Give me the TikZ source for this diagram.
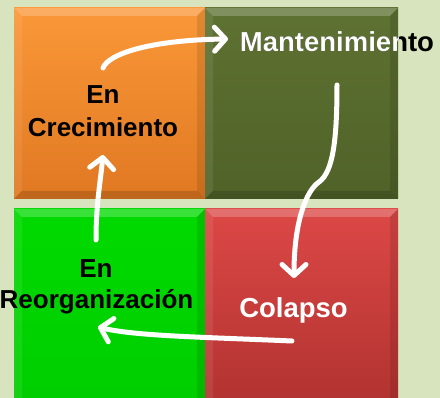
\documentclass[tikz,border=0pt]{standalone}
\usepackage{fontspec}
\setmainfont{Liberation Sans}
\usetikzlibrary{arrows.meta}
\definecolor{bg}{RGB}{216,228,190}
\definecolor{orT}{RGB}{250,152,56}
\definecolor{orB}{RGB}{224,120,34}
\definecolor{olT}{RGB}{94,114,50}
\definecolor{olB}{RGB}{80,98,40}
\definecolor{grT}{RGB}{0,218,0}
\definecolor{grB}{RGB}{0,205,0}
\definecolor{rdT}{RGB}{220,72,70}
\definecolor{rdB}{RGB}{176,50,48}
\newcommand{\bvsq}[6]{%
  \shade[top color=#5,bottom color=#6] (#1,#2) rectangle (#3,#4);
  \fill[white,opacity=.22] (#1,#2) -- (#3,#2) -- ({#3-8},{#2+8}) -- ({#1+8},{#2+8}) -- cycle;
  \fill[white,opacity=.08] (#1,#2) -- ({#1+8},{#2+8}) -- ({#1+8},{#4-8}) -- (#1,#4) -- cycle;
  \fill[black,opacity=.10] (#3,#2) -- (#3,#4) -- ({#3-8},{#4-8}) -- ({#3-8},{#2+8}) -- cycle;
  \fill[black,opacity=.15] (#1,#4) -- (#3,#4) -- ({#3-8},{#4-8}) -- ({#1+8},{#4-8}) -- cycle;
}
\begin{document}
\begin{tikzpicture}[x=1pt,y=-1pt,
  lbl/.style={font=\fontsize{26}{31}\selectfont\bfseries, inner sep=0pt, anchor=base},
  lblb/.style={font=\fontsize{27.5}{33}\selectfont\bfseries, inner sep=0pt, anchor=base},
  arr/.style={white, line width=5pt, line cap=round, line join=round,
    -{Straight Barb[round,length=11pt,width=24pt]}}]
\fill[bg] (0,0) rectangle (440,398);
\useasboundingbox (0,0) rectangle (440,398);
% squares
\bvsq{14}{8}{205}{199}{orT}{orB}
\bvsq{205}{8}{398}{199}{olT}{olB}
\bvsq{14}{209}{205}{410}{grT}{grB}
\bvsq{205}{209}{398}{410}{rdT}{rdB}
% labels
\node[lbl] (en1) at (103,104) {En};
\node[lbl] (crec) at (103,137) {Crecimiento};
\node[lblb] (mant) at (337,52) {Mantenimiento};
\begin{scope}
  \clip (205,8) rectangle (398,199);
  \node[lblb,white] (mantw) at (337,52) {Mantenimiento};
\end{scope}
\node[lblb,white] (col) at (293.5,318) {Colapso};
\node[lbl] (en2) at (96,278) {En};
\node[lbl] (reorg) at (96.5,309) {Reorganización};
% arrow end points
\coordinate (a1s) at (103,68);
\coordinate (a1e) at (228,39);
\coordinate (a2s) at (337,85);
\coordinate (a2m) at (319,182);
\coordinate (a2e) at (294,278);
\coordinate (a3s) at (292,341);
\coordinate (a3e) at (98,327);
\coordinate (a4s) at (96,240);
\coordinate (a4e) at (103,155);
% arrows
\draw[arr] (a1s) .. controls (108,54) and (150,40) .. (a1e);
\draw[arr] (a2s) .. controls (337,140) and (333,172) .. (a2m)
              .. controls (307,190) and (294,220) .. (a2e);
\draw[arr] (a3s) .. controls (200,337) and (135,336) .. (a3e);
\draw[arr] (a4s) .. controls (96,205) and (100,185) .. (a4e);
\end{tikzpicture}
\end{document}
